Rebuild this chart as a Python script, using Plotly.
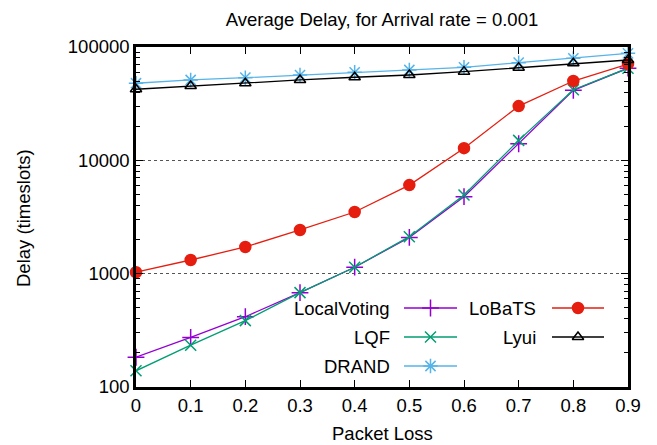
import plotly.graph_objects as go

packet_loss = [0, 0.1, 0.2, 0.3, 0.4, 0.5, 0.6, 0.7, 0.8, 0.9]
local_voting = [183, 274, 417, 680, 1140, 2090, 4780, 14000, 41500, 65000]
lqf = [139, 234, 385, 680, 1140, 2120, 4940, 15000, 42000, 65000]
drand = [47900, 51200, 53600, 56600, 59800, 62700, 66200, 72700, 79400, 87900]
lobats = [1030, 1320, 1720, 2430, 3500, 6050, 12800, 30100, 50100, 70800]
lyui = [42400, 45300, 47900, 51200, 54100, 56600, 60600, 65700, 71800, 76800]

x_ticktext = ["0", "0.1", "0.2", "0.3", "0.4", "0.5", "0.6", "0.7", "0.8", "0.9"]
y_tickvals = [100, 1000, 10000, 100000]
y_ticktext = ["100", "1000", "10000", "100000"]
y_minor = [m * d for d in (100, 1000, 10000) for m in range(2, 10)]

series = [
    ("LocalVoting", local_voting, "#9400d3", "cross-thin-open", 12),
    ("LQF", lqf, "#009e73", "x-thin-open", 11),
    ("DRAND", drand, "#56b4e9", "asterisk-open", 12),
    ("LoBaTS", lobats, "#e51e10", "circle", 11),
    ("Lyui", lyui, "#000000", "triangle-up-open", 10),
]

FONT = "Liberation Sans, Arial, sans-serif"
FS = 18.5
W, H = 657, 445
L, R, T, B = 136, 628, 47, 387


def px_to_paper(px, py):
    return (px - L) / (R - L), (B - py) / (B - T)


fig = go.Figure()
for name, vals, color, sym, size in series:
    fig.add_trace(go.Scatter(
        x=packet_loss, y=vals, mode="lines+markers", name=name,
        line=dict(color=color, width=1.3),
        marker=dict(symbol=sym, size=size, color=color,
                    line=dict(color=color, width=1.5)),
        showlegend=False, cliponaxis=False,
    ))

# Custom legend (text right-aligned before sample), drawn on a pixel-space overlay axis
legend_pos = [
    ("LocalVoting", 392, 404, 457, 308),
    ("LQF", 392, 404, 457, 337),
    ("DRAND", 392, 404, 457, 366),
    ("LoBaTS", 538, 552, 604, 308),
    ("Lyui", 538, 552, 604, 337),
]
style = {s[0]: s for s in series}
for name, tx, x0, x1, y in legend_pos:
    _, _, color, sym, size = style[name]
    fig.add_trace(go.Scatter(
        x=[x0, x1], y=[y, y], mode="lines", xaxis="x2", yaxis="y2",
        line=dict(color=color, width=1.3), showlegend=False, hoverinfo="skip"))
    fig.add_trace(go.Scatter(
        x=[(x0 + x1) / 2], y=[y], mode="markers", xaxis="x2", yaxis="y2",
        marker=dict(symbol=sym, size=size, color=color, line=dict(color=color, width=1.5)),
        showlegend=False, hoverinfo="skip"))
    fig.add_annotation(x=tx, y=y, xref="x2", yref="y2", text=name, showarrow=False,
                       xanchor="right", yanchor="middle",
                       font=dict(family=FONT, size=FS, color="black"))

# Axis titles as annotations, positioned in page pixels
yx, yy = px_to_paper(23, 218)
fig.add_annotation(x=yx, y=yy, xref="paper", yref="paper",
                   text="Delay (timeslots)", textangle=-90, showarrow=False,
                   xanchor="center", yanchor="middle",
                   font=dict(family=FONT, size=FS, color="black"))
xx, xy = px_to_paper(382, 445)
fig.add_annotation(x=xx, y=xy, xref="paper", yref="paper",
                   text="Packet Loss", showarrow=False, borderpad=0,
                   xanchor="center", yanchor="bottom",
                   font=dict(family=FONT, size=FS, color="black"))

fig.update_layout(
    width=W, height=H,
    margin=dict(l=L, r=W - R, t=T, b=H - B),
    paper_bgcolor="white", plot_bgcolor="white",
    font=dict(family=FONT, size=FS, color="black"),
    title=dict(text="Average Delay, for Arrival rate = 0.001", x=382 / W,
               xanchor="center", xref="container", yref="container",
               y=1 - 20 / H, yanchor="middle",
               font=dict(family=FONT, size=FS)),
    xaxis=dict(
        range=[0, 0.9], tickvals=packet_loss, ticktext=x_ticktext,
        ticks="inside", ticklen=7, tickcolor="black", mirror="allticks",
        showline=True, linecolor="black", linewidth=2.5, showgrid=False, zeroline=False,
        tickfont=dict(size=FS),
    ),
    yaxis=dict(
        type="log", range=[2, 5], tickvals=y_tickvals, ticktext=y_ticktext,
        ticks="inside", ticklen=7, tickcolor="black", mirror="allticks",
        showline=True, linecolor="black", linewidth=2.5,
        showgrid=True, gridcolor="#555555", griddash="dot", gridwidth=1,
        zeroline=False,
        minor=dict(tickvals=y_minor, ticks="inside", ticklen=4, tickcolor="black",
                   showgrid=False),
        tickfont=dict(size=FS),
    ),
    xaxis2=dict(overlaying="x", range=[L, R], visible=False, fixedrange=True),
    yaxis2=dict(overlaying="y", range=[B, T], visible=False, fixedrange=True),
)

fig.write_html("out.html", config={"displayModeBar": False},
               post_script="document.body.style.margin='0';document.body.style.overflow='hidden';")
